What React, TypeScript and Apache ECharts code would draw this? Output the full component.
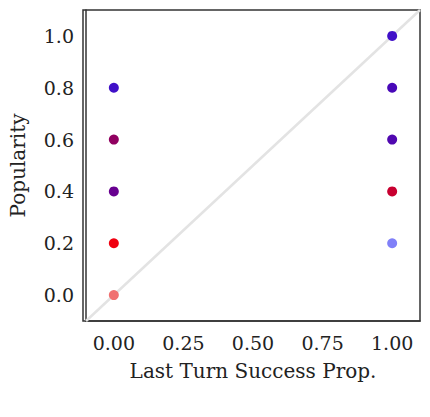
import * as echarts from 'echarts';
import { useEffect, useRef } from 'react';

const xTicks = [0, 0.25, 0.5, 0.75, 1];
const yTicks = [0, 0.2, 0.4, 0.6, 0.8, 1];
const points: [number, number, string][] = [
  [0, 0.8, '#4010c8'],
  [0, 0.6, '#900060'],
  [0, 0.4, '#680090'],
  [0, 0.2, '#f00010'],
  [0, 0.0, '#f07070'],
  [1, 1.0, '#4010c8'],
  [1, 0.8, '#4808b8'],
  [1, 0.6, '#5008b0'],
  [1, 0.4, '#c80030'],
  [1, 0.2, '#8080f8'],
];
const diagonal = [[-0.1, -0.1], [1.1, 1.1]];

export default function App() {
  const ref = useRef<HTMLDivElement>(null);

  useEffect(() => {
    if (!ref.current) return;
    const chart = echarts.init(ref.current, undefined, { renderer: 'svg' });
    const font = { fontFamily: 'DejaVu Serif', fontSize: 19, color: '#222' };
    const axisBase = {
      type: 'value' as const,
      min: -0.1,
      max: 1.1,
      splitLine: { show: false },
      axisLine: { show: true, onZero: false, lineStyle: { color: '#333', width: 1.5 } },
      axisTick: { show: false },
      nameLocation: 'middle' as const,
      nameTextStyle: { ...font, fontSize: 20 },
    };
    chart.setOption({
      animation: false,
      backgroundColor: '#fff',
      grid: { left: 83, right: 10, top: 10, bottom: 96 },
      xAxis: {
        ...axisBase,
        name: 'Last Turn Success Prop.',
        nameGap: 40,
        axisLabel: { ...font, customValues: xTicks, formatter: (v: number) => v.toFixed(2), margin: 12 },
      },
      yAxis: {
        ...axisBase,
        name: 'Popularity',
        nameGap: 58,
        axisLabel: { ...font, customValues: yTicks, formatter: (v: number) => v.toFixed(1), margin: 12 },
      },
      series: [
        {
          type: 'line',
          data: diagonal,
          symbol: 'none',
          z: 1,
          lineStyle: { color: '#e3e3e3', width: 2.5 },
          silent: true,
        },
        {
          type: 'scatter',
          symbolSize: 10,
          z: 5,
          data: points.map(([x, y, c]) => ({ value: [x, y], itemStyle: { color: c, opacity: 1 } })),
        },
      ],
      graphic: [
        {
          type: 'rect',
          shape: { x: 83, y: 10, width: 337, height: 311 },
          style: { fill: 'none', stroke: '#333', lineWidth: 1.5 },
          silent: true,
        },
      ],
    });
    return () => chart.dispose();
  }, []);

  return <div ref={ref} style={{ width: 430, height: 417, position: 'absolute', left: 0, top: 0 }} />;
}
